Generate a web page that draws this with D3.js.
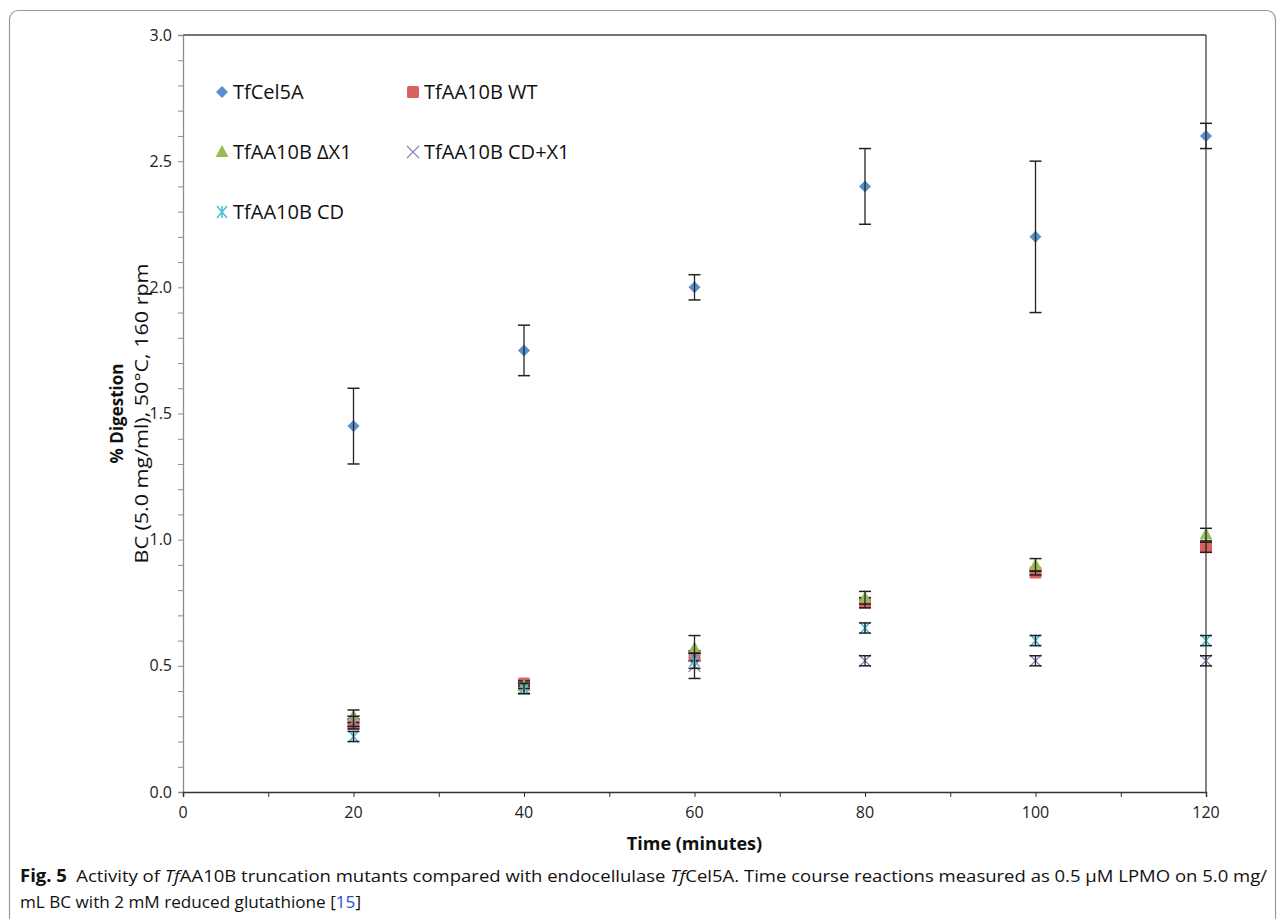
<!DOCTYPE html>
<html><head><meta charset="utf-8">
<script src="https://cdn.jsdelivr.net/npm/d3@7"></script>
<style>body{margin:0;background:#fff}svg{display:block}</style>
</head><body>
<svg id="c" width="1284" height="919"></svg>
<script>
const times = [20, 40, 60, 80, 100, 120];
const seriesNames = ["TfCel5A", "TfAA10B WT", "TfAA10B \u0394X1", "TfAA10B CD+X1", "TfAA10B CD"];
const cel5A = [1.45, 1.75, 2.00, 2.40, 2.20, 2.60];
const cel5AErr = [0.15, 0.10, 0.05, 0.15, 0.30, 0.05];
const wt = [0.27, 0.43, 0.54, 0.75, 0.87, 0.97];
const wtErr = [0.02, 0.01, 0.02, 0.02, 0.01, 0.02];
const dX1 = [0.30, 0.42, 0.57, 0.77, 0.90, 1.02];
const dX1Err = [0.025, 0.01, 0.05, 0.025, 0.025, 0.025];
const cdX1 = [0.28, 0.41, 0.50, 0.52, 0.52, 0.52];
const cdX1Err = [0.02, 0.02, 0.05, 0.02, 0.02, 0.02];
const cd = [0.22, 0.41, 0.52, 0.65, 0.60, 0.60];
const cdErr = [0.02, 0.02, 0.03, 0.02, 0.02, 0.02];
const xTickLabels = [0, 20, 40, 60, 80, 100, 120];
const yTickLabels = [0.0, 0.5, 1.0, 1.5, 2.0, 2.5, 3.0];

const svg = d3.select("#c");
const font = "'Open Sans', 'DejaVu Sans', sans-serif";
const L = 183, R = 1206, T = 35, B = 792;
const x = d3.scaleLinear().domain([0, 120]).range([L, R]);
const y = d3.scaleLinear().domain([0, 3]).range([B, T]);

// figure frame
svg.append("rect").attr("x", 9.5).attr("y", 10.5).attr("width", 1266).attr("height", 940)
  .attr("rx", 9).attr("fill", "none").attr("stroke", "#9a9a9a").attr("stroke-width", 1.2);

// plot frame top & right
svg.append("line").attr("x1", L).attr("x2", R).attr("y1", T).attr("y2", T).attr("stroke", "#444").attr("stroke-width", 1.3);
svg.append("line").attr("x1", R).attr("x2", R).attr("y1", T).attr("y2", B).attr("stroke", "#444").attr("stroke-width", 1.3);

// y axis
const yAx = svg.append("g").attr("transform", `translate(${L},0)`)
  .call(d3.axisLeft(y).tickValues(d3.range(0, 30.5, 1).map(v => v / 10)).tickSize(5).tickFormat(""));
yAx.select(".domain").attr("stroke", "#8c8c8c").attr("stroke-width", 1.3);
yAx.selectAll(".tick line").attr("stroke", "#8c8c8c");
svg.append("g").selectAll("text").data(yTickLabels).join("text")
  .attr("x", L - 11).attr("y", d => y(d)).attr("dy", "0.35em").attr("text-anchor", "end")
  .attr("font-family", font).attr("font-size", 16).attr("fill", "#222").text(d => d.toFixed(1));

// x axis
const xAx = svg.append("g").attr("transform", `translate(0,${B})`)
  .call(d3.axisBottom(x).tickValues(d3.range(0, 121, 10)).tickSize(5).tickFormat(""));
xAx.select(".domain").attr("stroke", "#333").attr("stroke-width", 1.5);
xAx.selectAll(".tick line").attr("stroke", "#333");
svg.append("g").selectAll("text").data(xTickLabels).join("text")
  .attr("x", d => x(d)).attr("y", B + 26).attr("text-anchor", "middle")
  .attr("font-family", font).attr("font-size", 16).attr("fill", "#222").text(d => d);

// axis titles
svg.append("text").attr("x", x(60)).attr("y", 850).attr("text-anchor", "middle")
  .attr("font-family", font).attr("font-weight", "bold").attr("font-size", 18).attr("fill", "#111").text("Time (minutes)");
const yt = svg.append("g").attr("transform", `translate(0,${y(1.5)}) rotate(-90)`);
yt.append("text").attr("x", 0).attr("y", 123).attr("text-anchor", "middle")
  .attr("font-family", font).attr("font-weight", "bold").attr("font-size", 17).attr("fill", "#111").text("% Digestion");
yt.append("text").attr("x", 0).attr("y", 148).attr("text-anchor", "middle")
  .attr("font-family", font).attr("font-size", 19).attr("fill", "#111")
  .attr("textLength", 300).attr("lengthAdjust", "spacingAndGlyphs").text("BC (5.0 mg/ml), 50\u00B0C, 160 rpm");

// series
const colors = ["#5B8FCB", "#D9625E", "#9BBB59", "#9A86BE", "#4BC0D6"];
const series = [
  {name: seriesNames[0], v: cel5A, e: cel5AErr, c: colors[0], m: "diamond"},
  {name: seriesNames[1], v: wt, e: wtErr, c: colors[1], m: "square"},
  {name: seriesNames[2], v: dX1, e: dX1Err, c: colors[2], m: "triangle"},
  {name: seriesNames[3], v: cdX1, e: cdX1Err, c: colors[3], m: "x"},
  {name: seriesNames[4], v: cd, e: cdErr, c: colors[4], m: "star"}
];

function drawMarker(g, type, cx, cy, c) {
  if (type === "diamond") {
    g.append("path").attr("d", `M${cx},${cy-6}L${cx+6},${cy}L${cx},${cy+6}L${cx-6},${cy}Z`).attr("fill", c);
  } else if (type === "square") {
    g.append("rect").attr("x", cx - 6).attr("y", cy - 6).attr("width", 12).attr("height", 12).attr("rx", 1.5).attr("fill", c);
  } else if (type === "triangle") {
    g.append("path").attr("d", `M${cx},${cy-7}L${cx+6.5},${cy+5}L${cx-6.5},${cy+5}Z`).attr("fill", c);
  } else if (type === "x") {
    g.append("path").attr("d", `M${cx-6},${cy-6}L${cx+6},${cy+6}M${cx+6},${cy-6}L${cx-6},${cy+6}`)
      .attr("stroke", c).attr("stroke-width", 1.4).attr("fill", "none");
  } else if (type === "star") {
    g.append("path").attr("d", `M${cx-5},${cy-6}L${cx+5},${cy+6}M${cx+5},${cy-6}L${cx-5},${cy+6}M${cx},${cy-6}L${cx},${cy+6}`)
      .attr("stroke", c).attr("stroke-width", 1.6).attr("fill", "none");
  }
}

const plot = svg.append("g");
series.forEach(s => {
  const g = plot.append("g");
  times.forEach((t, i) => {
    const cx = x(t), cy = y(s.v[i]);
    drawMarker(g, s.m, cx, cy, s.c);
    const lo = y(s.v[i] - s.e[i]), hi = y(s.v[i] + s.e[i]);
    g.append("line").attr("x1", cx).attr("x2", cx).attr("y1", lo).attr("y2", hi).attr("stroke", "#222").attr("stroke-width", 1.3);
    [lo, hi].forEach(yy => g.append("line").attr("x1", cx - 6).attr("x2", cx + 6).attr("y1", yy).attr("y2", yy).attr("stroke", "#222").attr("stroke-width", 1.5));
  });
});

// legend
const legPos = [[222, 92], [413, 92], [222, 152], [413, 152], [222, 212]];
series.forEach((s, i) => {
  const [lx, ly] = legPos[i];
  const g = svg.append("g");
  drawMarker(g, s.m, lx, ly, s.c);
  g.append("text").attr("x", lx + 11).attr("y", ly).attr("dy", "0.36em")
    .attr("font-family", font).attr("font-size", 20).attr("fill", "#111").text(s.name);
});

// caption
const cap1 = svg.append("text").attr("x", 20).attr("y", 882).attr("font-family", "'Liberation Sans Narrow', 'Open Sans', sans-serif")
  .attr("font-size", 17).attr("fill", "#111").attr("textLength", 1247).attr("lengthAdjust", "spacingAndGlyphs");
cap1.append("tspan").attr("font-weight", "bold").text("Fig. 5");
cap1.append("tspan").text("\u2002Activity of ");
cap1.append("tspan").attr("font-style", "italic").text("Tf");
cap1.append("tspan").text("AA10B truncation mutants compared with endocellulase ");
cap1.append("tspan").attr("font-style", "italic").text("Tf");
cap1.append("tspan").text("Cel5A. Time course reactions measured as 0.5 \u00B5M LPMO on 5.0 mg/");
const cap2 = svg.append("text").attr("x", 20).attr("y", 908).attr("font-family", "'Liberation Sans Narrow', 'Open Sans', sans-serif")
  .attr("font-size", 17).attr("fill", "#111").attr("textLength", 341).attr("lengthAdjust", "spacingAndGlyphs");
cap2.append("tspan").text("mL BC with 2 mM reduced glutathione [");
cap2.append("tspan").attr("fill", "#2b4fd6").text("15");
cap2.append("tspan").text("]");
</script>
</body></html>
